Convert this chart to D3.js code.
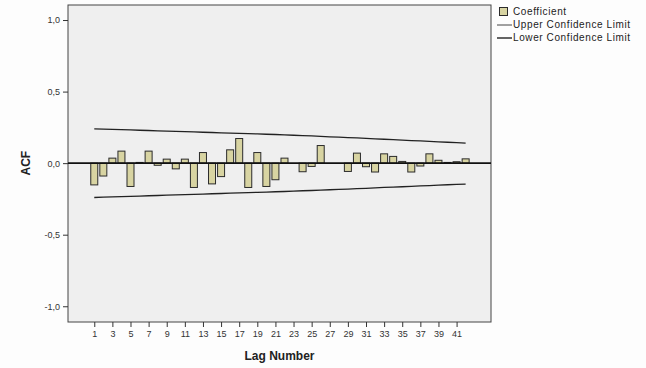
<!DOCTYPE html>
<html>
<head>
<meta charset="utf-8">
<script src="https://cdn.jsdelivr.net/npm/d3@7"></script>
<style>
  html, body { margin: 0; padding: 0; background: #fdfdfd; }
  svg { display: block; }
  text { font-family: "Liberation Sans", Arial, sans-serif; }
</style>
</head>
<body>
<svg id="chart" width="646" height="368"></svg>
<script>
const lags = d3.range(1, 43);
const coefficients = [
  -0.152, -0.090, 0.035, 0.084, -0.163, 0.005, 0.084, -0.015, 0.028, -0.040,
  0.028, -0.170, 0.074, -0.145, -0.094, 0.093, 0.172, -0.170, 0.074, -0.163,
  -0.116, 0.035, 0.000, -0.060, -0.023, 0.123, 0.000, 0.000, -0.058, 0.070,
  -0.025, -0.062, 0.065, 0.047, 0.012, -0.062, -0.020, 0.065, 0.020, 0.005,
  0.010, 0.030
];
const upperLimit = [
  0.240, 0.238, 0.236, 0.234, 0.232, 0.230, 0.228, 0.226, 0.224, 0.222,
  0.220, 0.218, 0.216, 0.214, 0.212, 0.210, 0.208, 0.206, 0.204, 0.202,
  0.200, 0.197, 0.195, 0.192, 0.190, 0.187, 0.184, 0.182, 0.179, 0.176,
  0.173, 0.170, 0.167, 0.164, 0.161, 0.158, 0.155, 0.152, 0.149, 0.146,
  0.143, 0.140
];
const lowerLimit = [
  -0.240, -0.238, -0.236, -0.234, -0.232, -0.230, -0.228, -0.226, -0.224, -0.222,
  -0.220, -0.218, -0.216, -0.214, -0.212, -0.210, -0.208, -0.206, -0.204, -0.202,
  -0.200, -0.198, -0.196, -0.193, -0.191, -0.189, -0.186, -0.184, -0.181, -0.178,
  -0.176, -0.173, -0.170, -0.167, -0.165, -0.162, -0.159, -0.157, -0.154, -0.151,
  -0.148, -0.146
];
const yTicks = [1.0, 0.5, 0.0, -0.5, -1.0];
const xTickLags = d3.range(1, 42, 2);
const legendLabels = ["Coefficient", "Upper Confidence Limit", "Lower Confidence Limit"];

const svg = d3.select("#chart");
const plot = { left: 68, right: 491, top: 5, bottom: 322 };

const x = d3.scaleLinear().domain([-1.9, 44.8]).range([plot.left, plot.right]);
const y = d3.scaleLinear().domain([-1.11, 1.105]).range([plot.bottom, plot.top]);

// plot background
svg.append("rect")
  .attr("x", plot.left).attr("y", plot.top)
  .attr("width", plot.right - plot.left).attr("height", plot.bottom - plot.top)
  .attr("fill", "#efefef").attr("stroke", "#444").attr("stroke-width", 1);

// bars
const barW = 7;
svg.append("g").selectAll("rect")
  .data(lags.map((l, i) => ({ lag: l, v: coefficients[i] })))
  .join("rect")
  .attr("x", d => x(d.lag) - barW / 2)
  .attr("y", d => y(Math.max(0, d.v)))
  .attr("width", barW)
  .attr("height", d => Math.abs(y(d.v) - y(0)))
  .attr("fill", "#d8d4a2")
  .attr("stroke", "#2b2b2b")
  .attr("stroke-width", 1);

// confidence lines
const line = d3.line().x(d => x(d[0])).y(d => y(d[1]));
[upperLimit, lowerLimit].forEach(arr => {
  svg.append("path")
    .datum(lags.map((l, i) => [l, arr[i]]))
    .attr("d", line)
    .attr("fill", "none")
    .attr("stroke", "#222")
    .attr("stroke-width", 1.3);
});

// zero line
svg.append("line")
  .attr("x1", plot.left).attr("x2", plot.right)
  .attr("y1", y(0)).attr("y2", y(0))
  .attr("stroke", "#111").attr("stroke-width", 1.6);

// y axis
const yAxis = d3.axisLeft(y).tickValues(yTicks).tickSize(5).tickPadding(3)
  .tickFormat(d => d3.format(".1f")(d).replace(".", ",").replace("−", "-"));
const gy = svg.append("g").attr("transform", `translate(${plot.left},0)`).call(yAxis);
gy.select(".domain").remove();
gy.selectAll("line").attr("stroke", "#333");
gy.selectAll("text").attr("font-size", 9).attr("fill", "#333");

// x axis
const xAxis = d3.axisBottom(x).tickValues(xTickLags).tickSize(5).tickPadding(4)
  .tickFormat(d3.format("d"));
const gx = svg.append("g").attr("transform", `translate(0,${plot.bottom})`).call(xAxis);
gx.select(".domain").remove();
gx.selectAll("line").attr("stroke", "#333");
gx.selectAll("text").attr("font-size", 9).attr("fill", "#333");

// axis titles
svg.append("text")
  .attr("x", (plot.left + plot.right) / 2).attr("y", 360)
  .attr("text-anchor", "middle").attr("font-size", 12).attr("font-weight", "bold")
  .attr("fill", "#222").text("Lag Number");
svg.append("text")
  .attr("transform", `translate(30,${y(0)}) rotate(-90)`)
  .attr("text-anchor", "middle").attr("font-size", 12).attr("font-weight", "bold")
  .attr("fill", "#222").text("ACF");

// legend
const lg = svg.append("g").attr("transform", "translate(497,0)");
lg.append("rect").attr("x", 2.5).attr("y", 7.5).attr("width", 8).attr("height", 8)
  .attr("fill", "#d8d4a2").attr("stroke", "#2b2b2b").attr("stroke-width", 1);
lg.append("line").attr("x1", 0).attr("x2", 15).attr("y1", 25).attr("y2", 25)
  .attr("stroke", "#444").attr("stroke-width", 1);
lg.append("line").attr("x1", 0).attr("x2", 15).attr("y1", 38).attr("y2", 38)
  .attr("stroke", "#111").attr("stroke-width", 1.3);
lg.selectAll("text.leg").data(legendLabels).join("text")
  .attr("class", "leg")
  .attr("x", 16).attr("y", (d, i) => 15 + i * 13)
  .attr("font-size", 10).attr("letter-spacing", 0.6)
  .attr("fill", "#222").text(d => d);
</script>
</body>
</html>
